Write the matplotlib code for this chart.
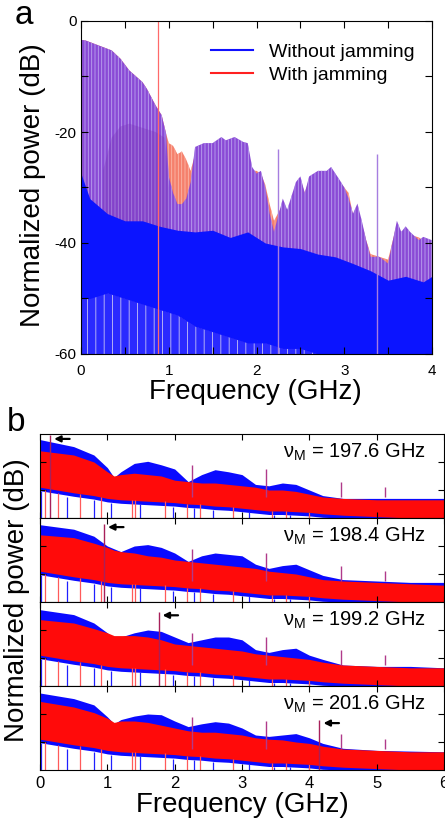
import numpy as np
import matplotlib
matplotlib.use("Agg")
import matplotlib.pyplot as plt
from matplotlib.lines import Line2D

plt.rcParams['font.family'] = ['Liberation Sans', 'DejaVu Sans']
plt.rcParams['mathtext.fontset'] = 'custom'
plt.rcParams['mathtext.rm'] = 'Liberation Sans'
plt.rcParams['axes.unicode_minus'] = False
plt.rcParams['hatch.linewidth'] = 0.6

# ---- panel a : spectrum 0-4 GHz (dB) ----
freq_a = [0, 0.05, 0.2, 0.35, 0.45, 0.55, 0.7, 0.75, 0.85, 0.92, 0.97, 1.0, 1.05, 1.1,
          1.15, 1.2, 1.25, 1.3, 1.4, 1.5, 1.6, 1.65, 1.75, 1.85, 1.9, 1.95, 2.0, 2.05,
          2.1, 2.15, 2.2, 2.3, 2.35, 2.45, 2.5, 2.55, 2.6, 2.7, 2.8, 2.85, 2.95, 3.0,
          3.05, 3.1, 3.15, 3.2, 3.25, 3.3, 3.4, 3.5, 3.6, 3.65, 3.7, 3.75, 3.85, 3.9, 4.0]
peak_blue_a = [-3.4, -3.5, -4.4, -5.3, -6.8, -8.9, -11, -12.2, -15.2, -17, -20.3, -28, -31, -33,
               -33, -32, -29, -22.7, -22, -22, -20.9, -21.5, -20.9, -21.8, -22, -26.3, -27.5, -27,
               -30, -34.7, -38, -32, -34, -29, -28, -31, -28, -27, -27, -26.3, -28.7, -30,
               -32, -34.7, -32.9, -36, -39.5, -42.5, -42.5, -43.7, -36, -38, -37, -38, -39.5, -38.9, -39.5]
peak_red_a = [-3.4, -3.5, -4.4, -5.3, -6.8, -8.9, -11, -12.2, -15.2, -17, -20.3, -22, -22.5, -24,
              -23.5, -25, -27, -24, -22.5, -22.5, -21.5, -22, -21.5, -22.5, -22.5, -27, -27, -27.5,
              -29.5, -33, -36, -33, -34.5, -29.5, -28.5, -31, -28.5, -27.5, -27.5, -27, -29, -30,
              -31, -35, -33.5, -36.5, -39.5, -42, -42.5, -43, -36.5, -38.5, -37.5, -38.5, -39, -39.5, -40]

mid_f_a = [0.25, 0.35, 0.45, 0.55, 0.65, 0.75, 0.85, 0.95, 1.0]
mid_top_a = [-27, -21, -19, -18.5, -19, -19.5, -20, -21, -30]

band_f_a = [0, 0.1, 0.3, 0.5, 0.7, 0.9, 1.1, 1.3, 1.5, 1.7, 1.9, 2.1, 2.3, 2.5, 2.7, 2.9,
            3.1, 3.3, 3.5, 3.7, 3.9, 4.0]
band_top_a = [-27.5, -32, -34.7, -36, -36, -37, -37.7, -38, -37.7, -39, -38, -40, -40.7, -41,
              -42, -42.5, -43.7, -45, -46.7, -46, -47, -46]
band_bot_a = [-50, -50, -49, -50, -51, -52, -53, -55, -56, -57, -58, -58, -59, -59,
              -60, -60, -60, -60, -60, -60, -60, -60]

jam_f_a, jam_top_a = 0.88, 0.0
spur_f_a = [2.25, 3.37]
spur_top_a = [-23, -24]

# ---- panel b : four spectra 0-6 GHz ----
freq_b = [0, 0.5, 0.8, 1.0, 1.1, 1.2, 1.4, 1.6, 1.8, 2.0, 2.2, 2.4, 2.6, 2.8, 3.0, 3.2,
          3.4, 3.6, 3.8, 4.0, 4.2, 4.5, 5.0, 5.5, 6.0]
blue_b = [
    [-4, -9, -15, -24, -31, -27, -21, -19.5, -22, -25, -34, -29, -25.5, -27, -29, -36,
     -37, -35, -36, -40, -44, -46, -46, -46, -46],
    [-4.8, -8, -13, -20, -22, -24, -20, -19, -21, -25, -31, -27, -25, -26, -27, -33,
     -36, -34, -33, -37, -41, -44, -45, -46, -46],
    [-5.5, -9, -15, -22, -27, -25, -22, -20, -21, -25, -29, -27, -25, -25, -27, -34,
     -36, -34, -33, -38, -41, -45, -46, -46, -47],
    [-5, -9, -13.5, -22, -27, -24, -21.5, -20, -20.5, -25, -29, -27, -25.5, -26.5, -30, -35,
     -36, -35, -34, -37, -41, -44.5, -46, -46.5, -47],
]
red_b = [
    [-12, -15, -20, -27, -30, -29, -28, -29, -30, -33, -34, -35, -35, -36, -37, -38,
     -40, -40, -41, -43, -45, -46, -47, -47, -47],
    [-12, -14, -18, -21, -23, -24, -25, -27, -28, -30, -31, -32, -33, -34, -35, -36,
     -38, -39, -40, -42, -44, -45, -46, -47, -48],
    [-12.6, -15, -19, -22, -24, -24, -24, -25, -27, -30, -31, -32, -33, -34, -35, -37,
     -38, -39, -40, -41, -43, -45, -46, -47, -47],
    [-11, -15, -19, -23, -26, -25, -25, -26, -28, -30, -32, -33, -33, -34, -35, -37,
     -38, -38.5, -40, -41, -43, -45, -46, -47, -47],
]
red_floor_b = [-38, -42, -44, -46, -46.5, -47, -47.5, -48, -48.5, -49, -50, -50.5, -51.5,
               -52, -53, -54, -55, -55, -55.5, -56, -57, -58, -59, -60, -60]
blue_floor_b = [-40.5, -44.5, -46.5, -48.5, -49, -49.5, -50, -50.5, -51, -51.5, -52.5, -53, -54,
                -54.5, -55.5, -56.5, -57.5, -57.5, -58, -58.5, -59.5, -60, -60, -60, -60]

dip_red_f = [0.07, 0.27, 0.6, 0.9, 1.36, 1.41, 1.86, 2.18, 2.38, 2.87, 3.44, 3.66, 4.0]
dip_red_top = [-40, -42, -43, -45, -47, -47, -48, -50, -50, -52, -55, -55, -56]
dip_blue_f = [0.02, 0.4, 0.8, 1.05, 1.49, 1.98, 2.28, 2.57, 3.1, 3.48, 3.72]
dip_blue_top = [-41, -45, -47, -49, -50, -52, -53, -54, -56, -58, -58]

spur_f_b = [2.25, 3.36, 4.47, 5.12]
spur_top_b = [-22, -25, -34, -38]
jam_f_b = [0.15, 0.95, 1.76, 4.15]
jam_top_b = [-1, -4, -7, -24]
nu_m = ['197.6', '198.4', '199.2', '201.6']

W, H = 445, 823
fig = plt.figure(figsize=(W / 100, H / 100), dpi=100)

# ---------------- panel a ----------------
ax = fig.add_axes([81 / W, 1 - 354 / H, 351 / W, 333 / H])
ax.fill_between(freq_a, -60, peak_red_a, facecolor='#f5806c', edgecolor='#fcb8a8',
                hatch='|||||', linewidth=0)
ax.fill_between(freq_a, -60, peak_blue_a, facecolor='#8a4ad6', edgecolor='#bca4ee',
                hatch='|||||', linewidth=0)
ax.fill_between(mid_f_a, -45, mid_top_a, facecolor='#7430b0', alpha=0.3, linewidth=0)
ax.fill_between(band_f_a, -60, band_bot_a, facecolor='#2a2aff', edgecolor='#c8c4f4',
                hatch='||', linewidth=0)
ax.fill_between(band_f_a, band_bot_a, band_top_a, color='#0b14ff', linewidth=0)
ax.vlines(jam_f_a, -60, jam_top_a, color='#ff6a6a', lw=0.9)
ax.vlines(spur_f_a, -60, spur_top_a, color='#a67ee0', lw=1.0)
ax.set_xlim(0, 4)
ax.set_ylim(-60, 0)
ax.set_xticks([0, 1, 2, 3, 4])
ax.set_xticks(np.arange(0, 4.01, 0.5), minor=True)
ax.set_yticks([-60, -40, -20, 0])
ax.set_yticks(np.arange(-60, 1, 10), minor=True)
ax.tick_params(which='both', direction='in', top=True, right=True, length=5,
               labelsize=11, width=0.8)
ax.tick_params(axis='x', pad=7)
ax.tick_params(axis='y', pad=3)
handles = [Line2D([], [], color='#1010ff', lw=1.5), Line2D([], [], color='#ff2020', lw=1.5)]
ax.legend(handles, ['Without jamming', 'With jamming'], loc='upper right',
          bbox_to_anchor=(1.0, 0.985), frameon=False, fontsize=14, handlelength=2.2,
          handletextpad=0.8, labelspacing=0.25)
fig.text(33 / W, 1 - 185 / H, 'Normalized power (dB)', rotation=90, fontsize=20,
         ha='center', va='center')
fig.text(255 / W, 1 - 392 / H, 'Frequency (GHz)', fontsize=20, ha='center', va='center')
fig.text(24 / W, 1 - 16 / H, 'a', fontsize=24, ha='center', va='center')

# ---------------- panel b ----------------
for i in range(4):
    top = 434 + 84 * i
    axb = fig.add_axes([40 / W, 1 - (top + 84) / H, 404 / W, 84 / H])
    axb.fill_between(freq_b, blue_floor_b, blue_b[i], color='#0a0aff', linewidth=0)
    axb.fill_between(freq_b, red_floor_b, red_b[i], color='#ff0a0a', linewidth=0)
    axb.vlines(dip_blue_f, -60, dip_blue_top, color='#2020ff', lw=0.9)
    axb.vlines(dip_red_f, -60, dip_red_top, color='#ff5a5a', lw=0.9)
    axb.vlines(spur_f_b, -45, spur_top_b, color='#b03a8a', lw=1.0)
    axb.vlines(jam_f_b[i], -60, jam_top_b[i], color='#a8205a', lw=1.0)
    axb.annotate('', xy=(jam_f_b[i] + 0.06, jam_top_b[i] - 2.5),
                 xytext=(jam_f_b[i] + 0.29, jam_top_b[i] - 2.5),
                 arrowprops=dict(arrowstyle='-|>', color='black', lw=1.6,
                                 mutation_scale=9, shrinkA=0, shrinkB=0))
    axb.text(0.955, 0.78, 'ν$_\\mathrm{M}$ = ' + nu_m[i] + ' GHz', transform=axb.transAxes,
             ha='right', va='center', fontsize=14.5)
    axb.set_xlim(0, 6)
    axb.set_ylim(-60, 0)
    axb.set_xticks(range(7))
    axb.set_yticks([-40, -20])
    axb.set_yticklabels([])
    axb.tick_params(which='both', direction='in', top=True, right=True, length=4,
                    labelsize=12, width=0.8, pad=4)
    if i < 3:
        axb.set_xticklabels([])
fig.text(17 / W, 1 - 600 / H, 'Normalized power (dB)', rotation=90, fontsize=20,
         ha='center', va='center')
fig.text(242 / W, 1 - 805 / H, 'Frequency (GHz)', fontsize=20, ha='center', va='center')
fig.text(16 / W, 1 - 423 / H, 'b', fontsize=24, ha='center', va='center')

fig.savefig('out.png', dpi=100)
